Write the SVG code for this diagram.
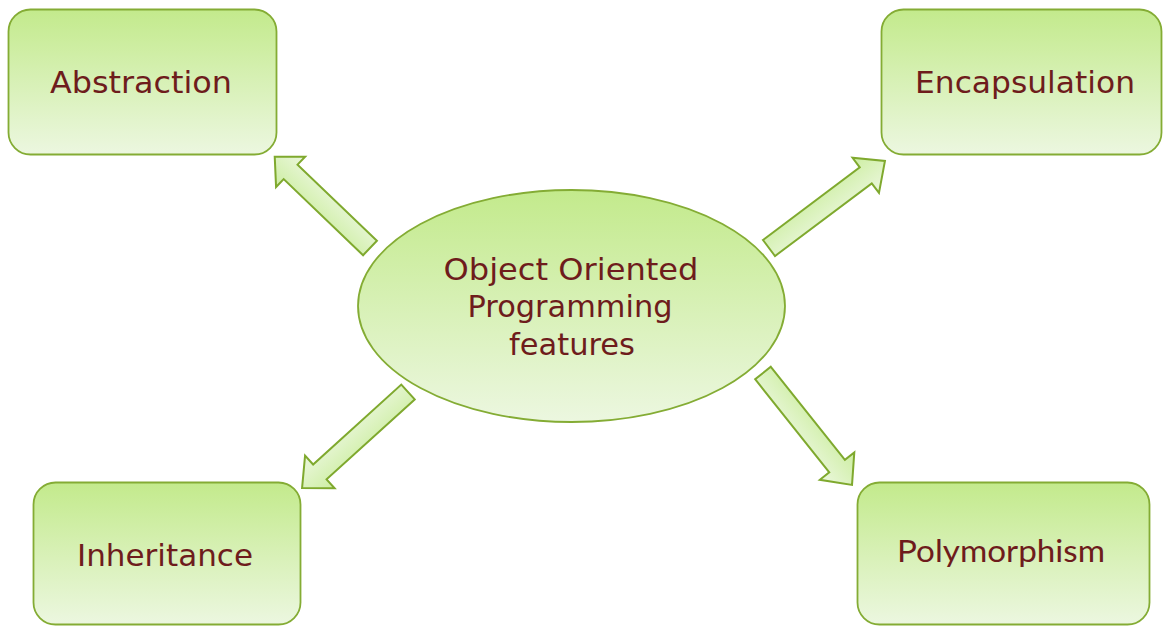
<svg xmlns="http://www.w3.org/2000/svg" width="1163" height="626" viewBox="0 0 1163 626">
<defs>
<linearGradient id="gBox" x1="0" y1="0" x2="0" y2="1">
<stop offset="0" stop-color="#c3ea8c"/>
<stop offset="1" stop-color="#ecf7e0"/>
</linearGradient>
<linearGradient id="gArrow" x1="0" y1="0" x2="0" y2="1">
<stop offset="0" stop-color="#cdeea2"/>
<stop offset="1" stop-color="#ebf7dd"/>
</linearGradient>
<style>
.box{fill:url(#gBox);stroke:#84ac34;stroke-width:1.8}
.arrow{fill:url(#gArrow);stroke:#7fa92e;stroke-width:2;stroke-linejoin:miter}
.lbl{font-family:"DejaVu Sans","Liberation Sans",sans-serif;font-size:30px;fill:#6e1c1c;text-anchor:middle}
.lbl2{font-family:"Lato","Liberation Sans",sans-serif;font-size:30px;fill:#6e1c1c;text-anchor:middle}
</style>
</defs>
<rect width="1163" height="626" fill="#ffffff"/>
<g id="connectors">
<polygon class="arrow" transform="translate(370,248) rotate(-136.2)" points="0,-10 110,-10 110,-21 132,0 110,21 110,10 0,10"/>
<polygon class="arrow" transform="translate(769,248) rotate(-36.9)" points="0,-10 121,-10 121,-22 145,0 121,22 121,10 0,10"/>
<polygon class="arrow" transform="translate(408,392) rotate(137.8)" points="0,-10 119,-10 119,-22 143,0 119,22 119,10 0,10"/>
<polygon class="arrow" transform="translate(763,373) rotate(51.5)" points="0,-10 119,-10 119,-22 143,0 119,22 119,10 0,10"/>
</g>
<g id="center">
<ellipse class="box" cx="571.5" cy="306" rx="213.5" ry="116"/>
<text class="lbl" x="571" y="280" textLength="255" lengthAdjust="spacingAndGlyphs">Object Oriented</text>
<text class="lbl" x="570" y="317" textLength="205" lengthAdjust="spacingAndGlyphs">Programming</text>
<text class="lbl" x="572" y="355" textLength="126" lengthAdjust="spacingAndGlyphs">features</text>
</g>
<g id="abstraction">
<rect class="box" x="8.5" y="9.5" width="268" height="145" rx="22"/>
<text class="lbl" x="141" y="93" textLength="182" lengthAdjust="spacingAndGlyphs">Abstraction</text>
</g>
<g id="encapsulation">
<rect class="box" x="881.5" y="9.5" width="280" height="145" rx="22"/>
<text class="lbl" x="1025" y="93" textLength="220" lengthAdjust="spacingAndGlyphs">Encapsulation</text>
</g>
<g id="inheritance">
<rect class="box" x="33.5" y="482.5" width="267" height="142" rx="22"/>
<text class="lbl" x="165" y="566" textLength="176" lengthAdjust="spacingAndGlyphs">Inheritance</text>
</g>
<g id="polymorphism">
<rect class="box" x="857.5" y="482.5" width="292" height="142" rx="22"/>
<text class="lbl2" x="1001" y="562" textLength="208" lengthAdjust="spacingAndGlyphs">Polymorphism</text>
</g>
</svg>
